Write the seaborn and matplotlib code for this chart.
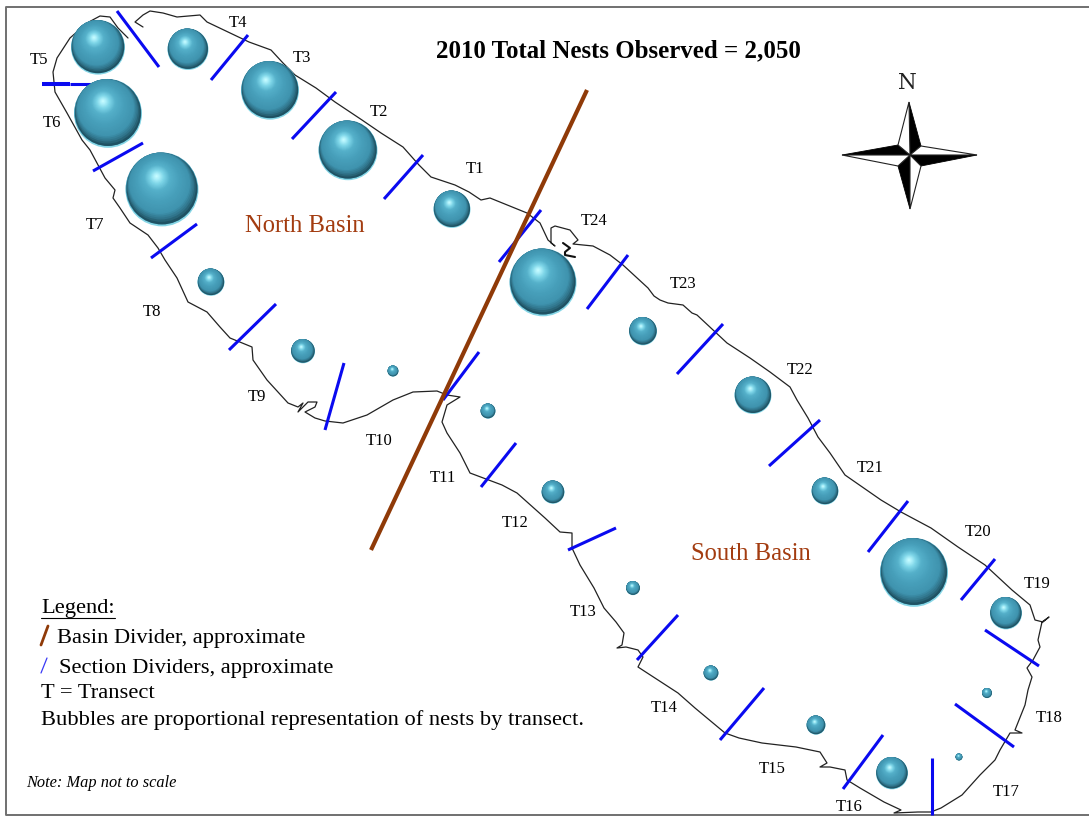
import numpy as np
import pandas as pd
import matplotlib
import matplotlib.pyplot as plt
from matplotlib.colors import to_rgb
import seaborn as sns

matplotlib.use("Agg")

# bubbles in pixels (x, y, diameter)
transects = ["T1", "T2", "T3", "T4", "T5", "T6", "T7", "T8", "T9", "T10", "T11", "T12",
             "T13", "T14", "T15", "T16", "T17", "T18", "T19", "T20", "T21", "T22", "T23", "T24"]
bubble_x = [452, 348, 270, 188, 98, 108, 162, 211, 303, 393, 488, 553,
            633, 711, 816, 892, 959, 987, 1006, 914, 825, 753, 643, 543]
bubble_y = [209, 150, 90, 49, 47, 113, 189, 282, 351, 371, 411, 492,
            588, 673, 725, 773, 757, 693, 613, 572, 491, 395, 331, 282]
bubble_d = [37, 59, 58, 41, 54, 68, 73, 27, 24, 11, 15, 23,
            14, 15, 19, 32, 7, 10, 32, 68, 27, 37, 28, 67]

# transect label centres
label_x = [475, 379, 302, 238, 39, 52, 95, 152, 257, 379, 443, 515,
           583, 664, 772, 849, 1006, 1049, 1037, 978, 870, 800, 683, 594]
label_y = [169, 112, 58, 23, 60, 123, 225, 312, 397, 441, 478, 523,
           612, 708, 769, 807, 792, 718, 584, 532, 468, 370, 284, 221]

coast_main = [(143, 27), (135, 22), (143, 15), (150, 11), (163, 13), (177, 17), (200, 15), (207, 22),
              (226, 31), (249, 42), (271, 50), (283, 63), (295, 75), (316, 88), (335, 102), (362, 120),
              (381, 133), (403, 147), (419, 165), (431, 177), (455, 185), (469, 192), (481, 200),
              (490, 198), (527, 213), (540, 223), (548, 240), (555, 246), (551, 243), (551, 228),
              (555, 226), (570, 230), (578, 240), (573, 244), (593, 246), (610, 255), (623, 265),
              (648, 288), (654, 296), (660, 300), (668, 303), (683, 305), (692, 313), (697, 315),
              (713, 330), (727, 343), (750, 358), (770, 372), (790, 387), (797, 400), (808, 418),
              (818, 437), (830, 453), (845, 475), (881, 500), (901, 512), (931, 528), (958, 547),
              (985, 565), (1012, 590), (1030, 605), (1035, 620), (1043, 622), (1049, 617), (1042, 622),
              (1038, 640), (1040, 647), (1033, 660), (1027, 668), (1032, 677), (1028, 690), (1025, 705),
              (1015, 730), (1022, 733), (1010, 733), (1000, 750), (995, 760), (980, 775), (962, 795),
              (941, 808), (931, 812), (918, 812), (894, 813), (901, 810), (884, 802), (860, 788),
              (847, 780), (845, 770), (830, 767), (820, 767), (827, 763), (820, 752), (796, 747),
              (762, 743), (739, 738), (725, 733), (695, 708), (678, 693), (658, 680), (638, 667),
              (643, 657), (638, 650), (626, 647), (617, 648), (622, 645), (624, 633), (616, 622),
              (604, 608), (594, 588), (580, 565), (572, 548), (572, 533), (560, 532), (545, 518),
              (517, 493), (502, 485), (470, 473), (460, 453), (447, 433), (442, 422), (447, 405),
              (460, 397), (447, 395), (437, 391), (413, 392), (393, 400), (367, 415), (343, 423),
              (325, 421), (315, 418), (305, 412), (315, 407), (317, 402), (308, 402), (298, 412),
              (303, 403), (298, 407), (288, 403), (267, 380), (253, 360), (252, 347), (230, 338),
              (220, 327), (207, 312), (188, 302), (177, 278), (165, 260), (158, 248), (148, 235),
              (130, 223), (120, 208), (113, 198), (115, 190), (105, 178), (98, 165), (90, 150),
              (82, 140), (67, 113), (55, 92), (53, 72), (57, 58), (70, 38), (87, 23), (100, 16),
              (110, 17), (118, 28), (128, 38)]
coast_inlet = [(563, 243), (570, 248), (565, 252), (565, 255), (575, 257)]

section_dividers = [((117, 11), (159, 67)), ((248, 35), (211, 80)), ((70, 84), (95, 84)),
                    ((336, 92), (292, 139)), ((423, 155), (384, 199)), ((143, 143), (93, 171)),
                    ((197, 224), (151, 258)), ((276, 304), (229, 350)), ((344, 363), (325, 430)),
                    ((541, 210), (499, 262)), ((479, 352), (443, 400)), ((516, 443), (481, 487)),
                    ((616, 528), (568, 550)), ((628, 255), (587, 309)), ((723, 324), (677, 374)),
                    ((820, 420), (769, 466)), ((908, 501), (868, 552)), ((995, 559), (961, 600)),
                    ((985, 630), (1039, 666)), ((955, 704), (1014, 747)), ((932, 758), (932, 815)),
                    ((883, 735), (843, 789)), ((764, 688), (720, 740)), ((678, 615), (637, 660))]
thick_stub = ((42, 84), (70, 84))
basin_divider = ((587, 90), (371, 550))

BLUE = "#0a0af0"
BROWN = "#8f3a08"
TEXT_BROWN = "#a33c10"

sns.set_theme(style="white")
plt.rcParams["font.family"] = ["Liberation Serif", "DejaVu Serif"]

fig = plt.figure(figsize=(10.89, 8.17), dpi=100)
ax = fig.add_axes([0, 0, 1, 1])
ax.set_xlim(0, 1089)
ax.set_ylim(817, 0)
ax.axis("off")

# page frame
ax.plot([1089, 6, 6, 1089], [7, 7, 815, 815], color="#707070", lw=1.4, zorder=1)

xs, ys = zip(*coast_main)
ax.plot(xs, ys, color="#222222", lw=0.9, zorder=2)
xs, ys = zip(*coast_inlet)
ax.plot(xs, ys, color="#111111", lw=1.5, zorder=2)

for a, b in section_dividers:
    ax.plot([a[0], b[0]], [a[1], b[1]], color=BLUE, lw=2.2, zorder=3, solid_capstyle="butt")
ax.plot([thick_stub[0][0], thick_stub[1][0]], [thick_stub[0][1], thick_stub[1][1]],
        color=BLUE, lw=2.9, zorder=3, solid_capstyle="butt")
ax.plot([basin_divider[0][0], basin_divider[1][0]], [basin_divider[0][1], basin_divider[1][1]],
        color=BROWN, lw=3.0, zorder=4, solid_capstyle="butt")

bubbles = pd.DataFrame({"transect": transects, "x": bubble_x, "y": bubble_y, "d": bubble_d})

# fake the 3D sphere shading with stacked shrinking circles
scale_stops = [0.97, 0.92, 0.84, 0.6, 0.36, 0.2, 0.09, 0.03]
color_stops = np.array([to_rgb(c) for c in
                        ["#1f5263", "#2f7389", "#3f93ae", "#479fba", "#55b0ca", "#7ed6e8", "#aef0fa", "#c4fbff"]])
shift_scale = [0.97, 0.93, 0.85, 0.4, 0.03]
shift_amount = [0.0, 0.036, 0.08, 0.165, 0.19]


def draw_layer(scale, dx, dy, color, z):
    px = bubbles["d"] * scale * 0.72
    sns.scatterplot(x=bubbles["x"] + bubbles["d"] * dx, y=bubbles["y"] + bubbles["d"] * dy,
                    s=px ** 2, color=color, linewidth=0, legend=False, ax=ax, zorder=z)


draw_layer(1.0, 0, 0.012, "#86d6e6", 5)
draw_layer(0.985, -0.004, -0.008, "#3f93ae", 5.001)
for i, scale in enumerate(np.linspace(0.97, 0.03, 36)):
    shift = np.interp(scale, shift_scale[::-1], shift_amount[::-1])
    rgb = [np.interp(scale, scale_stops[::-1], color_stops[::-1, k]) for k in range(3)]
    draw_layer(scale, -0.39 * shift, -0.92 * shift, tuple(rgb), 5.01 + i * 0.01)

for name, x, y in zip(transects, label_x, label_y):
    ax.text(x, y, name, ha="center", va="center", fontsize=12, color="black", zorder=7)

ax.text(618, 51, "2010 Total Nests Observed = 2,050", ha="center", va="center",
        fontsize=17.9, fontweight="bold", color="black", zorder=7)
ax.text(305, 226, "North Basin", ha="center", va="center", fontsize=17.7, color=TEXT_BROWN, zorder=7)
ax.text(751, 554, "South Basin", ha="center", va="center", fontsize=17.7, color=TEXT_BROWN, zorder=7)

# compass
ax.text(907, 83, "N", ha="center", va="center", fontsize=15.5, family="DejaVu Serif",
        color="#222222", zorder=7)
cx, cy = 910, 155
tips = {"n": (909, 102), "e": (977, 155), "s": (910, 209), "w": (842, 155)}
inner = {"nw": (898, 145), "ne": (921, 146), "se": (921, 166), "sw": (898, 166)}
black_parts = [("n", "ne"), ("e", "se"), ("s", "sw"), ("w", "nw")]
white_parts = [("n", "nw"), ("e", "ne"), ("s", "se"), ("w", "sw")]
for tip, waist in black_parts:
    ax.fill([cx, tips[tip][0], inner[waist][0]], [cy, tips[tip][1], inner[waist][1]],
            facecolor="black", edgecolor="black", lw=0.6, zorder=7)
for tip, waist in white_parts:
    ax.fill([cx, tips[tip][0], inner[waist][0]], [cy, tips[tip][1], inner[waist][1]],
            facecolor="white", edgecolor="#222222", lw=0.8, zorder=7)

# legend block
legend_size = 16.2
ax.text(41, 609, "Legend:", va="center", fontsize=legend_size, color="black", zorder=7)
ax.plot([41, 115], [618, 618], color="black", lw=0.8, zorder=7)
ax.plot([41, 48], [645, 626], color=BROWN, lw=2.0, zorder=7)
ax.text(57, 639, "Basin Divider, approximate", va="center", fontsize=legend_size, zorder=7, color="black")
ax.plot([41, 47], [673, 658], color="#3a3af5", lw=0.9, zorder=7)
ax.text(59, 668, "Section Dividers, approximate", va="center", fontsize=legend_size, zorder=7, color="black")
ax.text(41, 694, "T = Transect", va="center", fontsize=legend_size, zorder=7, color="black")
ax.text(41, 720, "Bubbles are proportional representation of nests by transect.", va="center",
        fontsize=legend_size, zorder=7, color="black")
ax.text(26, 783, "Note: Map not to scale", va="center", fontsize=11.8, style="italic", zorder=7, color="black")

fig.savefig("out.png", dpi=100)
